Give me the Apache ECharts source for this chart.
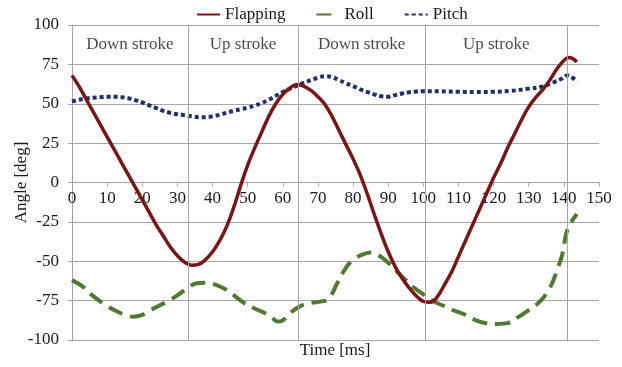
<!DOCTYPE html>
<html>
<head>
<meta charset="utf-8">
<script src="https://cdn.jsdelivr.net/npm/echarts@6/dist/echarts.min.js"></script>
<style>
html,body{margin:0;padding:0;background:#fff;}
#chart{width:622px;height:367px;}
</style>
</head>
<body>
<div id="chart"></div>
<script>
// ---- data ----
var seriesNames = ['Flapping', 'Roll', 'Pitch'];
var strokeLabels = ['Down stroke', 'Up stroke', 'Down stroke', 'Up stroke'];
var strokeBounds = [0, 33, 64.4, 100.5, 141];
var yTicks = [-100, -75, -50, -25, 0, 25, 50, 75, 100];
var xTicks = [0, 10, 20, 30, 40, 50, 60, 70, 80, 90, 100, 110, 120, 130, 140, 150];
var xTitle = 'Time [ms]';
var yTitle = 'Angle [deg]';

var flapTime = [0,2,4,6,8,10,12,14,16,18,20,22,24,26,28,30,32,34,36,38,40,42,44,46,48,50,52,54,56,58,60,62,64,66,68,70,72,74,76,78,80,82,84,86,88,90,92,94,96,98,100,102,104,106,108,110,112,114,116,118,120,122,124,126,128,130,132,134,136,138,140,141.5,143.7];
var flapAngle = [68,61,53,45,37,29,21,13,5,-3,-11,-19,-27,-34,-41,-46.5,-50.5,-52.5,-52,-49,-44,-37,-28,-16,-2,11,22,32,42,50,56,60,62.3,61,58.5,54.5,49.5,42,33,24,15,5,-7,-20,-32.5,-44,-53.5,-61,-67,-72,-75.5,-76,-72.5,-65,-57,-47,-37,-27,-17,-7,3,12,22,31,40,48,54,59,65,72,77.5,79.3,76.5];

var rollTime = [0,3,6,9,12,15,17.5,20,22,25,28,31,33.5,35.5,37.5,40,43,46,49,52,55,57,58.5,60,62,65,68,71,73,75.5,78,80.5,83,85,87.5,90,92.5,95,97.5,100,103,106,109,112,115,118,121,124,127,130,133,136,138,139.5,141,143.7];
var rollAngle = [-62,-66,-72,-77,-81,-84,-85.2,-84,-81.5,-78,-74.5,-70,-66,-64,-63.7,-64.3,-67,-71.5,-76.5,-80,-83,-86,-88.3,-87.5,-83,-78.5,-76.5,-75.5,-74,-64,-54,-48.3,-45.5,-44.5,-46.5,-51,-56.5,-62,-67,-71,-75.5,-78.5,-81.5,-84,-87.5,-89.4,-89.8,-89.3,-85.5,-81,-76,-67,-56,-46,-30,-20];

var pitchTime = [0,2,4,6,8,10,12,14,16,18,20,22,24,26,28,30,32,34,36,38,40,42,44,46,48,50,52,54,56,58,60,62,64,66,68,70,72,74,76,78,80,82,84,86,88,90,92,94,96,98,100,105,110,115,120,125,130,134,137,139.5,141,142.5,143.7];
var pitchAngle = [51.5,52.5,53.3,53.8,54.2,54.4,54.4,54.2,53.5,52.3,50.8,49,47.2,45.5,44.2,43.3,42.7,42,41.5,41.5,42,43,44.3,45.5,46.5,47.5,48.8,50.5,52.5,55,57.5,59.5,61.5,63.3,65,66.5,67.5,67,65,63,61.2,59.2,57.5,56,54.8,54.5,55.5,56.5,57.3,57.8,58,57.9,57.6,57.5,57.6,58.2,59.6,61,63.5,66,68,66.5,64];

function pairs(t, v) { return t.map(function (x, i) { return [x, v[i]]; }); }

var strokeData = strokeLabels.map(function (name, i) {
  return { name: name, value: [(strokeBounds[i] + strokeBounds[i + 1]) / 2, 87.5] };
});
var separatorData = strokeBounds.slice(1).map(function (b) { return { xAxis: b }; });

var serif = '"Liberation Serif", "Times New Roman", serif';
var txt = '#1a1a1a';
var gridCol = '#a6a6a6';
var gridTop = 25, gridBottom = 27, H = 367;
var plotH = H - gridTop - gridBottom;
// distance from bottom of plot to the y = 0 line (x axis sits on zero)
var zeroOffset = -plotH * (0 - yTicks[0]) / (yTicks[yTicks.length - 1] - yTicks[0]);

var chart = echarts.init(document.getElementById('chart'), null, { renderer: 'canvas' });
chart.setOption({
  animation: false,
  backgroundColor: '#ffffff',
  textStyle: { fontFamily: serif },
  legend: {
    data: seriesNames,
    top: 1,
    left: 191,
    itemWidth: 23,
    itemHeight: 14,
    itemGap: 30,
    itemStyle: { opacity: 0 },
    textStyle: { fontFamily: serif, fontSize: 17, color: txt }
  },
  grid: { left: 72, right: 23, top: gridTop, bottom: gridBottom, containLabel: false, outerBoundsMode: 'none' },
  graphic: [{
    type: 'text', x: 335, y: 351, silent: true,
    style: { text: xTitle, font: '17px ' + serif, fill: txt, textAlign: 'center', textVerticalAlign: 'middle' }
  }],
  xAxis: {
    type: 'value', min: xTicks[0], max: xTicks[xTicks.length - 1], interval: 10,
    position: 'bottom', offset: zeroOffset,
    axisLine: { show: true, onZero: false, lineStyle: { color: gridCol, width: 1 } },
    axisTick: { show: true, length: 4, lineStyle: { color: gridCol } },
    axisLabel: { fontFamily: serif, fontSize: 17, color: txt, margin: 8 },
    splitLine: { show: false }
  },
  yAxis: {
    type: 'value', min: yTicks[0], max: yTicks[yTicks.length - 1], interval: 25,
    axisLine: { show: true, onZero: false, lineStyle: { color: gridCol, width: 1 } },
    axisTick: { show: true, length: 4, lineStyle: { color: gridCol } },
    axisLabel: { fontFamily: serif, fontSize: 17, color: txt, margin: 13 },
    splitLine: { show: true, lineStyle: { color: gridCol, width: 1 } },
    name: yTitle, nameLocation: 'middle', nameGap: 42, nameMoveOverlap: false,
    nameTextStyle: { fontFamily: serif, fontSize: 17, color: txt }
  },
  series: [{
    name: 'Flapping', type: 'line', smooth: 0.4, showSymbol: false, symbol: 'none',
    data: pairs(flapTime, flapAngle), z: 4,
    lineStyle: { color: '#7e1412', width: 3.5 },
    itemStyle: { color: '#7e1412' }
  }, {
    name: 'Roll', type: 'line', smooth: 0.4, showSymbol: false, symbol: 'none',
    data: pairs(rollTime, rollAngle), z: 3,
    lineStyle: { color: '#4f7a30', width: 4, type: [15, 8] },
    itemStyle: { color: '#4f7a30' }
  }, {
    name: 'Pitch', type: 'line', smooth: 0.4, showSymbol: false, symbol: 'none',
    data: pairs(pitchTime, pitchAngle), z: 3,
    lineStyle: { color: '#1e2f6e', width: 4, type: [4, 3], cap: 'butt' },
    itemStyle: { color: '#1e2f6e' }
  }, {
    name: 'strokes', type: 'scatter', symbolSize: 0, data: strokeData, silent: true, z: 2,
    label: { show: true, position: 'inside', formatter: '{b}', fontFamily: serif, fontSize: 17, color: txt },
    markLine: {
      silent: true, symbol: ['none', 'none'], label: { show: false },
      lineStyle: { color: gridCol, width: 1, type: 'solid' },
      data: separatorData
    }
  }]
});
</script>
</body>
</html>
